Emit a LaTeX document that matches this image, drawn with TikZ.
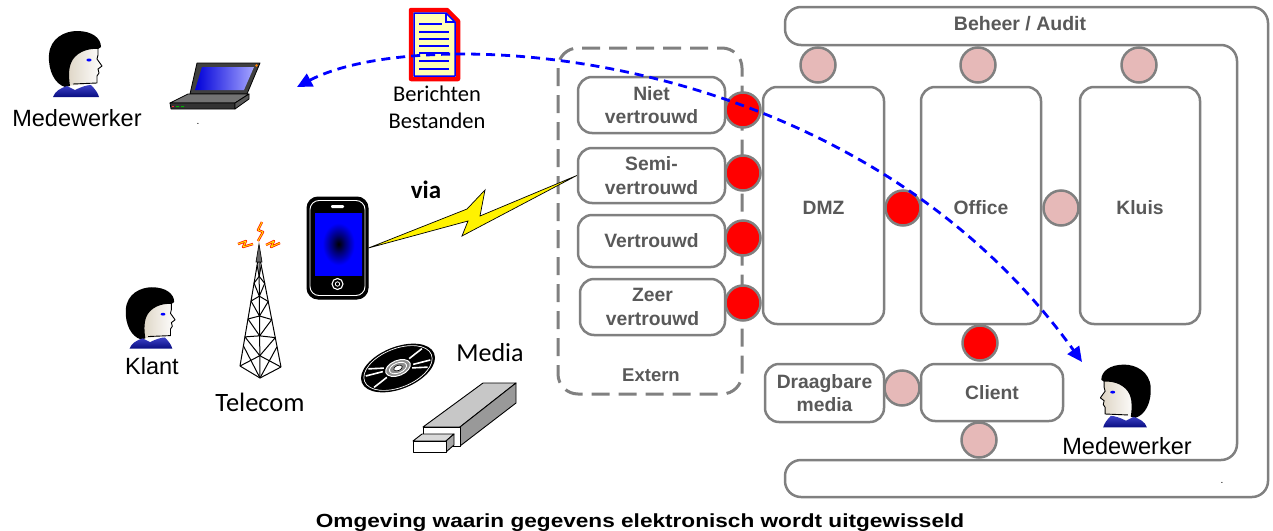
\documentclass[tikz,border=0pt]{standalone}
\usepackage{fontspec}
\usepackage{graphicx}
\setmainfont{Liberation Sans}
\newfontfamily\calfont{Carlito}
\usetikzlibrary{arrows.meta,calc}

\definecolor{edgegray}{HTML}{808080}
\definecolor{labelgray}{HTML}{595959}
\definecolor{gatepink}{HTML}{E6B9B8}
\definecolor{collarblue}{HTML}{0C12B8}
\definecolor{docyellow}{HTML}{FFFFB4}
\definecolor{skinback}{HTML}{DCD3C2}

\pgfdeclareradialshading{screenglow}{\pgfpoint{0bp}{0bp}}{color(0bp)=(black); color(7bp)=(black!55!blue); color(17bp)=(blue); color(50bp)=(blue)}

\tikzset{
  zone/.style={draw=edgegray, line width=2.5pt, rounded corners=14pt, fill=white,
    font=\bfseries\fontsize{19.3}{23.5}\selectfont, text=labelgray, align=center, inner sep=0pt},
  tallzone/.style={zone, text height=18pt, text depth=0pt},
  gate/.style={circle, draw=edgegray, line width=2.5pt, minimum size=35pt, inner sep=0pt},
  redgate/.style={gate, fill=red},
  pinkgate/.style={gate, fill=gatepink},
  plainlabel/.style={font=\fontsize{23.5}{26}\selectfont, inner sep=0pt},
  callabel/.style={font=\calfont\fontsize{26}{28}\selectfont, inner sep=0pt},
  person/.pic={
    % face with soft shading
    \shade[left color=skinback, right color=white]
      (-9,23) -- (-9,8) .. controls (-10,-6) and (4,-17) .. (23,-15) -- (23,-8) -- (22,-4)
      -- (27,3) -- (23,6) -- (24,10) -- (22,13) -- (22,20) -- cycle;
    \draw[black, line width=0.9pt, line join=round]
      (23,-15) -- (23,-8) -- (22,-4) -- (27,3) -- (23,6) -- (24,10) -- (22,13) -- (22,20) -- (-2,21);
    % hair
    \fill[black] (-10,24) .. controls (-20,21) and (-27,8) .. (-26,-8)
      .. controls (-25,-25) and (-10,-32) .. (2,-32)
      .. controls (17,-32) and (26,-25) .. (26,-16) -- (23,-14)
      .. controls (12,-15) and (0,-10) .. (-4,0)
      .. controls (-7,8) and (-6,16) .. (-5,23) -- cycle;
    % eye
    \fill[blue] (14,-3) ellipse[x radius=2.6, y radius=1.5];
    % collar
    \shade[top color=collarblue!80!white, bottom color=collarblue!70!black]
      (-22,34) .. controls (-20,28) and (-14,25) .. (-8,23) -- (0,27)
      .. controls (6,24) and (12,22) .. (16,22) .. controls (20,26) and (23,30) .. (24,34) -- cycle;
  }
}

\begin{document}
\begin{tikzpicture}[x=1pt,y=-1pt]
\useasboundingbox (0,0) rectangle (1273,530);

% ---------- outer management frame ----------
\draw[edgegray, line width=2.5pt, rounded corners=16pt]
  (900,7) -- (1268,7) -- (1268,497) -- (785,497) -- (785,460) -- (1237,460)
  -- (1237,45) -- (785,45) -- (785,7) -- cycle;
\node[font=\bfseries\fontsize{19.5}{21}\selectfont, text=labelgray] (beheer) at (1020,24) {Beheer / Audit};

% ---------- external zone ----------
\draw[edgegray, line width=3pt, dash pattern=on 18pt off 9pt, rounded corners=20pt]
  (558,48) rectangle (742,394);
\node[font=\bfseries\fontsize{18.5}{21}\selectfont, text=labelgray] (extern) at (651,375) {Extern};

\node[zone, minimum width=147pt, minimum height=56pt] (nv) at (651.5,105) {Niet\\vertrouwd};
\node[zone, minimum width=147pt, minimum height=55pt] (sv) at (651.5,175.5) {Semi-\\vertrouwd};
\node[zone, minimum width=147pt, minimum height=52pt] (vt) at (651.5,241) {Vertrouwd};
\node[zone, minimum width=145pt, minimum height=56pt] (zv) at (652.5,307) {Zeer\\vertrouwd};

% ---------- internal zones ----------
\node[tallzone, minimum width=121pt, minimum height=237pt] (dmz) at (823.5,205.5) {DMZ};
\node[tallzone, minimum width=120pt, minimum height=237pt] (office) at (981,205.5) {Office};
\node[tallzone, minimum width=120pt, minimum height=237pt] (kluis) at (1140,205.5) {Kluis};
\node[zone, minimum width=142pt, minimum height=57pt] (client) at (992,392.5) {Client};
\node[zone, minimum width=119pt, minimum height=58pt] (draag) at (824.5,393) {Draagbare\\media};

% ---------- gateways ----------
\node[redgate] (g1) at (743,110) {};
\node[redgate] (g2) at (743,173) {};
\node[redgate] (g3) at (743,238) {};
\node[redgate] (g4) at (743,303) {};
\node[pinkgate] (t1) at (818,65) {};
\node[pinkgate] (t2) at (978,65) {};
\node[pinkgate] (t3) at (1139,65) {};
\node[redgate] (dmzoffice) at (903,208) {};
\node[pinkgate] (officekluis) at (1061,208) {};
\node[redgate] (officeclient) at (980,343) {};
\node[pinkgate] (clientmedia) at (902,388) {};
\node[pinkgate] (clientbottom) at (979,440) {};

% ---------- people ----------
\pic at (75,63) {person};
\node[plainlabel] (mw1) at (77,118) {Medewerker};
\pic[scale=0.93] at (150,317) {person};
\node[plainlabel] (klant) at (152,366) {Klant};
\pic[xscale=-0.95, yscale=0.95] at (1126,395) {person};
\node[plainlabel] (mw2) at (1127,446) {Medewerker};

% ---------- laptop ----------
\filldraw[fill=black!75, draw=black, line width=0.8pt, line join=round]
  (197,63) -- (260,63) -- (247,94) -- (190,94) -- cycle;
\shade[left color=blue!85!black, right color=blue!35!white]
  (202,67) -- (254,67) -- (244,90) -- (195,90) -- cycle;
\fill[orange] (256.5,65.5) circle (1.3);
\filldraw[fill=black!55, draw=black, line width=0.8pt, line join=round]
  (188,94) -- (249,94) -- (235,103) -- (170,103) -- cycle;
\filldraw[fill=black!80, draw=black, line width=0.8pt, line join=round]
  (170,103) -- (235,103) -- (235,109) -- (171,109) -- cycle;
\filldraw[fill=black!65, draw=black, line width=0.8pt, line join=round]
  (235,103) -- (249,94) -- (249,99) -- (235,109) -- cycle;
\fill[green!70!black] (176,106) rectangle (179,107) (181,106) rectangle (184,107);
\fill[red!80] (172,106) rectangle (174,107);
\node[font=\fontsize{10}{12}\selectfont, inner sep=0pt] (dot1) at (198,124) {.};

% ---------- document ----------
\filldraw[fill=docyellow, draw=red, line width=4.5pt, line join=round]
  (411,10) -- (447,10) -- (458,21) -- (458,79) -- (411,79) -- cycle;
\draw[blue, line width=1.5pt, line join=round]
  (414,13) -- (446,13) -- (455,22) -- (455,76) -- (414,76) -- cycle;
\draw[blue, line width=1.3pt] (446,13) -- (446,22) -- (455,22);
\foreach \yy in {32,39,46,53,61,69} \draw[blue, line width=1.8pt] (419,\yy) -- (449,\yy);
\draw[blue, line width=1.8pt] (419,24) -- (442,24);
\node[callabel, font=\calfont\fontsize{22.5}{27}\selectfont, align=center] (msg) at (437,107) {Berichten\\Bestanden};

% ---------- phone ----------
\node[draw=black, fill=black, line width=1pt, rounded corners=11pt,
      minimum width=61pt, minimum height=102pt, inner sep=0pt] (phone) at (337.5,248) {};
\draw[white, line width=0.9pt, rounded corners=9pt] (310,200.5) rectangle (365,295.5);
\shade[shading=screenglow] (315,213) rectangle (362,275);
\fill[white, rounded corners=1.2pt] (331,205) rectangle (344,208);
\draw[white, line width=1.1pt] (337.5,284) circle (5.5);
\draw[white, line width=0.8pt] (337.5,284) circle (2.2);

% ---------- radio link ----------
\filldraw[fill=yellow, draw=black, line width=0.7pt, line join=miter]
  (phone.east) -- (467,209) -- (485,190) -- (480,216) -- (sv.west)
  -- (462,236) -- (468,221) -- cycle;
\node[font=\calfont\bfseries\fontsize{25}{27}\selectfont, inner sep=0pt] (via) at (426,190) {via};

% ---------- telecom tower ----------
\coordinate (apex) at (259,254);
\coordinate (lf) at (240,366);
\coordinate (ff) at (260,378);
\coordinate (rf) at (281,367);
\begin{scope}[line width=1pt, line join=round]
  \draw (apex) -- (lf) (apex) -- (ff) (apex) -- (rf);
  \draw (lf) -- (ff) -- (rf);
  \draw ($(apex)!0.1!(lf)$)
    \foreach \a/\b in {0.18/0.26,0.34/0.42,0.5/0.58,0.66/0.74} {
      -- ($(apex)!\a!(ff)$) -- ($(apex)!\b!(lf)$) }
    -- ($(apex)!0.82!(ff)$) -- (lf);
  \draw ($(apex)!0.1!(rf)$)
    \foreach \a/\b in {0.18/0.26,0.34/0.42,0.5/0.58,0.66/0.74} {
      -- ($(apex)!\a!(ff)$) -- ($(apex)!\b!(rf)$) }
    -- ($(apex)!0.82!(ff)$) -- (rf);
  \draw ($(apex)!0.82!(lf)$) -- (ff) ($(apex)!0.82!(rf)$) -- (ff);
\end{scope}
\filldraw[fill=black!60, draw=black, line width=0.6pt] (259,244) -- (262,262) -- (256,262) -- cycle;
\foreach \p in {
  {(238,244) -- (246,241) -- (243,247) -- (253,244)},
  {(262,222) -- (258,230) -- (263,232) -- (258,241)},
  {(266,245) -- (274,241) -- (271,247) -- (280,243)}} {
  \draw[red!85!orange, line width=2.4pt, line join=round] \p;
  \draw[yellow!90!orange, line width=0.9pt, line join=round] \p;
}
\node[callabel, font=\calfont\fontsize{26.5}{28}\selectfont] (telecom) at (260,402) {Telecom};

% ---------- media ----------
\begin{scope}[rotate around={22:(398,368)}]
  \fill[black] (398,368) ellipse[x radius=39, y radius=21];
  \draw[white, line width=0.7pt] (398,368) ellipse[x radius=36, y radius=19.3];
  \foreach \ang in {15,35,150,195,215,330} {
    \draw[white, line width=1.6pt] ($(398,368)+(\ang:16 and 9)$) -- ($(398,368)+(\ang:34 and 18)$);
  }
  \filldraw[fill=black!45, draw=white, line width=1pt] (398,368) ellipse[x radius=13, y radius=7.5];
  \draw[white, line width=0.8pt] (398,368) ellipse[x radius=9, y radius=5];
  \filldraw[fill=white, draw=black, line width=0.6pt] (398,368) ellipse[x radius=4.5, y radius=2.6];
\end{scope}
\node[callabel] (media) at (490,353) {Media};

\begin{scope}[line width=0.9pt, line join=round]
  \filldraw[fill=black!22] (423,427) -- (483,383) -- (516,383) -- (460,427) -- cycle;
  \filldraw[fill=black!40] (460,427) -- (516,383) -- (516,403) -- (460,446) -- cycle;
  \filldraw[fill=white] (423,427) rectangle (460,446);
  \filldraw[fill=black!15] (413,441) -- (422,434) -- (454,434) -- (446,441) -- cycle;
  \filldraw[fill=black!35] (446,441) -- (454,434) -- (454,445) -- (446,452) -- cycle;
  \filldraw[fill=white] (413,441) rectangle (446,452);
\end{scope}

% ---------- exchange path ----------
\coordinate (sendW) at (297,87);
\coordinate (sendE) at (1082,362);
\draw[blue, line width=2.8pt, dash pattern=on 9pt off 6pt,
      {Triangle[length=15pt,width=14pt]}-{Triangle[length=15pt,width=14pt]}]
  (sendW) .. controls (420,22) and (850,40) .. (sendE);

\node[font=\fontsize{10}{12}\selectfont, inner sep=0pt] (dot2) at (1222,483) {.};

% ---------- caption ----------
\node[font=\bfseries\fontsize{19}{22}\selectfont, anchor=base] (caption) at (640,527)
  {\scalebox{1.19}[1]{Omgeving waarin gegevens elektronisch wordt uitgewisseld}};
\end{tikzpicture}
\end{document}
